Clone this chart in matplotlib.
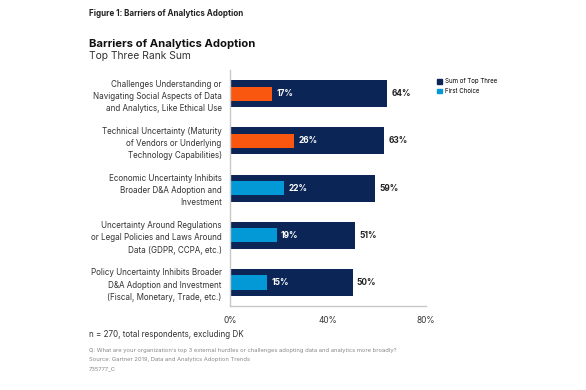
import matplotlib
matplotlib.use("Agg")
import matplotlib.pyplot as plt
import matplotlib.patches as mpatches

plt.rcParams['font.family'] = ['Inter', 'DejaVu Sans']

# Data
categories = [
    "Challenges Understanding or\nNavigating Social Aspects of Data\nand Analytics, Like Ethical Use",
    "Technical Uncertainty (Maturity\nof Vendors or Underlying\nTechnology Capabilities)",
    "Economic Uncertainty Inhibits\nBroader D&A Adoption and\nInvestment",
    "Uncertainty Around Regulations\nor Legal Policies and Laws Around\nData (GDPR, CCPA, etc.)",
    "Policy Uncertainty Inhibits Broader\nD&A Adoption and Investment\n(Fiscal, Monetary, Trade, etc.)",
]
top_three = [64, 63, 59, 51, 50]
first_choice = [17, 26, 22, 19, 15]
highlight = [True, True, False, False, False]
xticks = [0, 40, 80]

navy = '#0b2656'
orange = '#f9560f'
blue = '#0399d6'
gray_axis = '#c8c8c8'

fig = plt.figure(figsize=(5.86, 3.90), dpi=100)
ax = fig.add_axes([0.3925, 0.215, 0.3345, 0.6055])

ypos = list(range(len(categories)))
ax.barh(ypos, top_three, height=0.57, color=navy)
fc_colors = [orange if h else blue for h in highlight]
ax.barh(ypos, first_choice, height=0.30, color=fc_colors)

for y, t, f in zip(ypos, top_three, first_choice):
    ax.text(t + 1.8, y, f"{t}%", va='center', ha='left', fontsize=6,
            fontweight='bold', color='#222222')
    ax.text(f + 1.8, y, f"{f}%", va='center', ha='left', fontsize=6,
            fontweight='bold', color='white')

ax.set_xlim(0, 80)
ax.set_ylim(4.5, -0.5)
ax.set_yticks(ypos)
ax.set_yticklabels(categories, fontsize=5.8, color='#333333', linespacing=1.45)
ax.set_xticks(xticks)
ax.set_xticklabels([f"{x}%" for x in xticks], fontsize=6.0, color='#333333')
ax.tick_params(length=0, pad=6)
ax.tick_params(axis='x', pad=7)
for s in ['top', 'right']:
    ax.spines[s].set_visible(False)
for s in ['left', 'bottom']:
    ax.spines[s].set_color(gray_axis)
    ax.spines[s].set_linewidth(1)

# Legend
handles = [mpatches.Patch(color=navy, label='Sum of Top Three'),
           mpatches.Patch(color=blue, label='First Choice')]
fig.legend(handles=handles, loc='upper left', bbox_to_anchor=(0.742, 0.805),
           frameon=False, fontsize=4.4, handlelength=0.8, handleheight=0.8,
           handletextpad=0.5, labelspacing=0.6, borderaxespad=0)

# Titles
fig.text(0.152, 0.965, "Figure 1: Barriers of Analytics Adoption", fontsize=5.8,
         fontweight='bold', color='#222222', va='center')
fig.text(0.152, 0.887, "Barriers of Analytics Adoption", fontsize=8.1,
         fontweight='bold', color='#111111', va='center')
fig.text(0.152, 0.857, "Top Three Rank Sum", fontsize=7.4, color='#333333',
         va='center')

# Footer
fig.text(0.152, 0.143, "n = 270, total respondents, excluding DK", fontsize=5.8,
         color='#333333', va='center')
fig.text(0.152, 0.102,
         "Q: What are your organization\u2019s top 3 external hurdles or challenges adopting data and analytics more broadly?",
         fontsize=4.2, color='#888888', va='center')
fig.text(0.152, 0.077, "Source: Gartner 2019, Data and Analytics Adoption Trends",
         fontsize=4.2, color='#888888', va='center')
fig.text(0.152, 0.054, "735777_C", fontsize=4.2, color='#888888', va='center')

fig.savefig('out.png', dpi=100)
